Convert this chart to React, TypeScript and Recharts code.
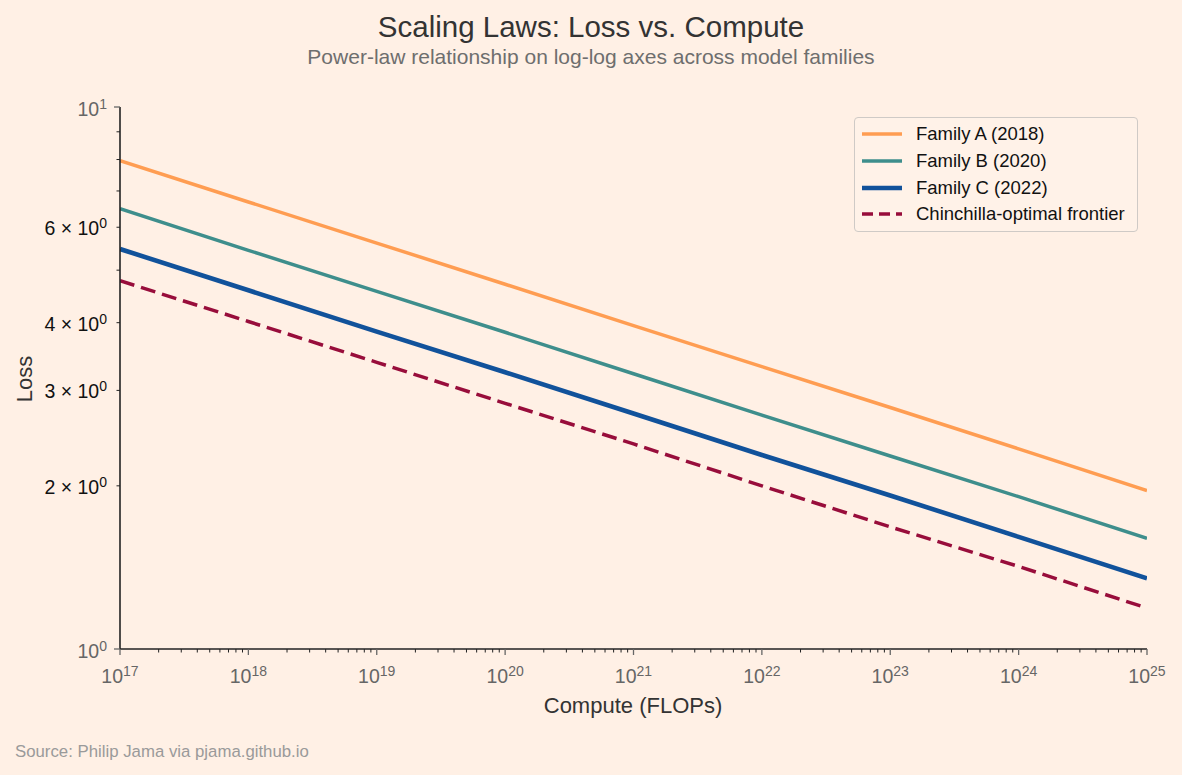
import React from "react";
import { LineChart, Line, XAxis, YAxis, Legend } from "recharts";

// compute budget (FLOPs), one point per decade
const compute = [1e17, 1e18, 1e19, 1e20, 1e21, 1e22, 1e23, 1e24, 1e25];

// loss
const familyA = [7.96, 6.68, 5.61, 4.71, 3.95, 3.32, 2.79, 2.34, 1.96];
const familyB = [6.49, 5.44, 4.57, 3.84, 3.22, 2.7, 2.27, 1.91, 1.6];
const familyC = [5.47, 4.59, 3.85, 3.24, 2.72, 2.28, 1.92, 1.61, 1.35];
const chinchilla = [4.78, 4.02, 3.38, 2.84, 2.39, 2.0, 1.68, 1.42, 1.19];

// tick exponents / labels
const xDecades = [17, 18, 19, 20, 21, 22, 23, 24, 25];
const yTicks = [1, 2, 3, 4, 5, 6, 7, 8, 9, 10];
const yLabelled = [2, 3, 4, 6];

const FONT = '"Liberation Sans", Arial, sans-serif';
const BG = "#FFF0E5";

const data = compute.map((c, i) => ({
  compute: c,
  a: familyA[i],
  b: familyB[i],
  c: familyC[i],
  chin: chinchilla[i],
}));

const series = [
  { key: "a", name: "Family A (2018)", color: "#FF9D52", width: 3.5, dash: undefined },
  { key: "b", name: "Family B (2020)", color: "#3E8E8C", width: 3.5, dash: undefined },
  { key: "c", name: "Family C (2022)", color: "#11529B", width: 4.6, dash: undefined },
  { key: "chin", name: "Chinchilla-optimal frontier", color: "#980D3B", width: 3.5, dash: "15 7" },
];

// major decades plus the 2..9 minor ticks between them
const xTicks: number[] = [];
xDecades.forEach((e, i) => {
  xTicks.push(Math.pow(10, e));
  if (i < xDecades.length - 1) {
    for (let m = 2; m <= 9; m++) xTicks.push(m * Math.pow(10, e));
  }
});

const isDecade = (v: number) => {
  const e = Math.round(Math.log10(v));
  return Math.abs(v - Math.pow(10, e)) / v < 1e-9;
};

const XTick = (props: any) => {
  const { x, y, payload } = props;
  const v = payload.value;
  const major = isDecade(v);
  const exp = Math.round(Math.log10(v));
  return (
    <g>
      <line x1={x} x2={x} y1={y} y2={y + (major ? 6 : 3.5)} stroke={major ? "#666" : "#222"} strokeWidth={major ? 1.3 : 1} />
      {major && (
        <text x={x} y={y + 34} textAnchor="middle" fontSize={19.5} fill="#666" fontFamily={FONT}>
          10
          <tspan dy={-7} fontSize={14}>
            {exp}
          </tspan>
        </text>
      )}
    </g>
  );
};

const YTick = (props: any) => {
  const { x, y, payload } = props;
  const v = payload.value;
  const major = v === 1 || v === 10;
  const labelled = yLabelled.includes(v);
  return (
    <g>
      <line x1={x} x2={x - (major ? 6 : 3.5)} y1={y} y2={y} stroke={major ? "#666" : "#222"} strokeWidth={major ? 1.3 : 1} />
      {major && (
        <text x={x - 13} y={y + 9} textAnchor="end" fontSize={19.5} fill="#666" fontFamily={FONT}>
          10
          <tspan dy={-7} fontSize={14}>
            {v === 10 ? 1 : 0}
          </tspan>
        </text>
      )}
      {labelled && (
        <text x={x - 13} y={y + 8} textAnchor="end" fontSize={19.5} fill="#111" fontFamily={FONT}>
          {v} × 10
          <tspan dy={-7} fontSize={14}>
            0
          </tspan>
        </text>
      )}
    </g>
  );
};

const renderLegend = () => (
  <div
    style={{
      boxSizing: "border-box",
      width: 284,
      height: 115,
      border: "1.3px solid #CFCAC6",
      borderRadius: 4,
      background: "rgba(255,242,233,0.85)",
      padding: "3px 0 0 6px",
      fontFamily: FONT,
      fontSize: 18.5,
      color: "#111",
    }}
  >
    {series.map((s) => (
      <div key={s.key} style={{ display: "flex", alignItems: "center", height: 26.7 }}>
        <svg width={42} height={10} style={{ marginRight: 13 }}>
          <line
            x1={1}
            x2={41}
            y1={5}
            y2={5}
            stroke={s.color}
            strokeWidth={s.width}
            strokeDasharray={s.dash ? "11 6" : undefined}
          />
        </svg>
        <span>{s.name}</span>
      </div>
    ))}
  </div>
);

const App: React.FC = () => {
  return (
    <div
      style={{
        position: "absolute",
        left: 0,
        top: 0,
        width: 1182,
        height: 775,
        background: BG,
        fontFamily: FONT,
      }}
    >
      <LineChart
        width={1182}
        height={775}
        data={data}
        margin={{ top: 107, right: 35, bottom: 96, left: 60 }}
      >
        <XAxis
          dataKey="compute"
          type="number"
          scale="log"
          domain={[1e17, 1e25]}
          allowDataOverflow
          ticks={xTicks}
          interval={0}
          height={30}
          tickSize={0}
          tickMargin={0}
          tickLine={false}
          tick={<XTick />}
          axisLine={{ stroke: "#222", strokeWidth: 1.6 }}
        />
        <YAxis
          type="number"
          scale="log"
          domain={[1, 10]}
          allowDataOverflow
          ticks={yTicks}
          interval={0}
          width={60}
          tickSize={0}
          tickMargin={0}
          tickLine={false}
          tick={<YTick />}
          axisLine={{ stroke: "#222", strokeWidth: 1.6 }}
        />
        <Legend
          layout="horizontal"
          verticalAlign="middle"
          align="center"
          content={renderLegend}
          wrapperStyle={{ left: 854, top: 117, width: 284, height: 115 }}
        />
        {series.map((s) => (
          <Line
            key={s.key}
            dataKey={s.key}
            name={s.name}
            type="linear"
            stroke={s.color}
            strokeWidth={s.width}
            strokeDasharray={s.dash}
            dot={false}
            activeDot={false}
            isAnimationActive={false}
          />
        ))}
      </LineChart>
      <svg
        width={1182}
        height={775}
        style={{ position: "absolute", left: 0, top: 0, pointerEvents: "none" }}
        fontFamily={FONT}
      >
        <text x={591} y={37} textAnchor="middle" fontSize={29.5} fill="#333">
          Scaling Laws: Loss vs. Compute
        </text>
        <text x={591} y={64} textAnchor="middle" fontSize={21} fill="#6E6E6E">
          Power-law relationship on log-log axes across model families
        </text>
        <text x={633} y={713} textAnchor="middle" fontSize={22} fill="#333">
          Compute (FLOPs)
        </text>
        <text x={32} y={379} textAnchor="middle" fontSize={22} fill="#333" transform="rotate(-90 32 379)">
          Loss
        </text>
        <text x={15} y={757} fontSize={16.8} fill="#9A9A9A">
          Source: Philip Jama via pjama.github.io
        </text>
      </svg>
    </div>
  );
};

export default App;
